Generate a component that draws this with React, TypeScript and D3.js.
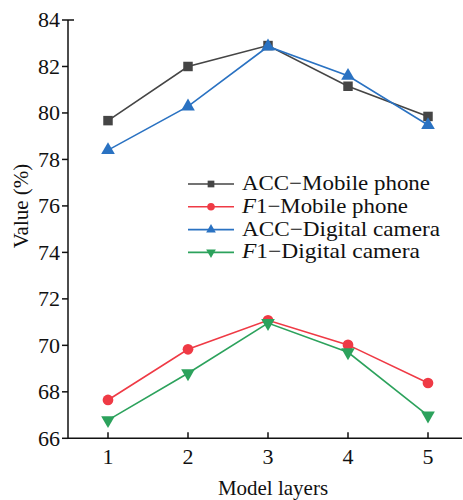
import { useEffect, useRef } from "react";
import * as d3 from "d3";

const layers = [1, 2, 3, 4, 5];
const accMobile = [79.67, 82.0, 82.9, 81.15, 79.85];
const f1Mobile = [67.65, 69.83, 71.08, 70.02, 68.38];
const accCamera = [78.4, 80.28, 82.86, 81.6, 79.48];
const f1Camera = [66.78, 68.8, 70.96, 69.7, 66.98];
const yTicks = [66, 68, 70, 72, 74, 76, 78, 80, 82, 84];

const seriesNames = ["ACC−Mobile phone", "F1−Mobile phone", "ACC−Digital camera", "F1−Digital camera"];
const seriesColors = ["#454545", "#ef3a45", "#2a72c2", "#2ca25c"];
const seriesSymbols = ["square", "circle", "triangle", "triangleDown"];
const legendWidths = [188, 166, 198, 178];

const FONT = "'Liberation Serif', 'Times New Roman', serif";

const App = () => {
  const svgRef = useRef<SVGSVGElement>(null);

  useEffect(() => {
    if (!svgRef.current) return;
    const svg = d3.select(svgRef.current);
    svg.selectAll("*").remove();

    const width = 463;
    const height = 500;
    svg.attr("width", width).attr("height", height).style("background", "#fff");

    const x = d3.scaleLinear().domain([0.5, 5.5]).range([68, 468]);
    const y = d3.scaleLinear().domain([66, 84]).range([438.3, 20]);

    // axes lines
    const axisG = svg.append("g").attr("stroke", "#111").attr("stroke-width", 1.5);
    axisG.append("line").attr("x1", 68).attr("x2", 68).attr("y1", y(84)).attr("y2", y(66));
    axisG.append("line").attr("x1", 68).attr("x2", 462).attr("y1", y(66)).attr("y2", y(66));
    // y ticks (outward)
    yTicks.forEach((t) => {
      axisG.append("line").attr("x1", 62).attr("x2", 68).attr("y1", y(t)).attr("y2", y(t));
    });
    axisG.append("line").attr("x1", 68).attr("x2", 74).attr("y1", y(84)).attr("y2", y(84));
    // x ticks (inward)
    layers.forEach((l) => {
      axisG.append("line").attr("x1", x(l)).attr("x2", x(l)).attr("y1", y(66)).attr("y2", y(66) - 6);
    });

    // tick labels
    svg.append("g").selectAll("text").data(yTicks).enter().append("text")
      .attr("x", 60).attr("y", (d) => y(d)).attr("dy", "0.34em")
      .attr("text-anchor", "end").attr("font-family", FONT).attr("font-size", 22).attr("fill", "#111")
      .text((d) => d);
    svg.append("g").selectAll("text").data(layers).enter().append("text")
      .attr("x", (d) => x(d)).attr("y", 464)
      .attr("text-anchor", "middle").attr("font-family", FONT).attr("font-size", 22).attr("fill", "#111")
      .text((d) => d);

    // axis titles
    svg.append("text").attr("x", 273).attr("y", 495).attr("text-anchor", "middle")
      .attr("font-family", FONT).attr("font-size", 21).attr("fill", "#111").text("Model layers");
    svg.append("text").attr("transform", "translate(28,206) rotate(-90)").attr("text-anchor", "middle")
      .attr("font-family", FONT).attr("font-size", 21).attr("fill", "#111").text("Value (%)");

    const symbolFor = (name: string, size: number) => {
      if (name === "square") return d3.symbol().type(d3.symbolSquare).size(size)();
      if (name === "circle") return d3.symbol().type(d3.symbolCircle).size(size)();
      return d3.symbol().type(d3.symbolTriangle).size(size * 0.9)();
    };

    const allSeries = [accMobile, f1Mobile, accCamera, f1Camera];
    const line = d3.line<number>().x((_, i) => x(layers[i])).y((d) => y(d));

    allSeries.forEach((vals, si) => {
      const color = seriesColors[si];
      svg.append("path").attr("d", line(vals)).attr("fill", "none")
        .attr("stroke", color).attr("stroke-width", 1.6);
      const sym = symbolFor(seriesSymbols[si], 90);
      const flip = seriesSymbols[si] === "triangleDown" ? " rotate(180)" : "";
      svg.append("g").selectAll("path").data(vals).enter().append("path")
        .attr("d", sym)
        .attr("transform", (d, i) => `translate(${x(layers[i])},${y(d)})${flip}`)
        .attr("fill", color);
    });

    // legend
    const legend = svg.append("g");
    seriesNames.forEach((name, i) => {
      const base = 190 + i * 22.8;
      const color = seriesColors[i];
      legend.append("line").attr("x1", 188).attr("x2", 234).attr("y1", base - 6).attr("y2", base - 6)
        .attr("stroke", color).attr("stroke-width", 1.6);
      const flip = seriesSymbols[i] === "triangleDown" ? " rotate(180)" : "";
      legend.append("path").attr("d", symbolFor(seriesSymbols[i], 45))
        .attr("transform", `translate(211,${base - 6})${flip}`).attr("fill", color);

      const t = legend.append("text").attr("x", 242).attr("y", base)
        .attr("font-family", FONT).attr("font-size", 21).attr("fill", "#111")
        .attr("textLength", legendWidths[i]).attr("lengthAdjust", "spacingAndGlyphs");
      if (name.startsWith("F1")) {
        t.append("tspan").attr("font-style", "italic").text("F");
        t.append("tspan").text(name.slice(1));
      } else {
        t.text(name);
      }
    });
  }, []);

  return (
    <svg ref={svgRef} style={{ position: "absolute", left: 0, top: 0, display: "block" }} />
  );
};

export default App;
